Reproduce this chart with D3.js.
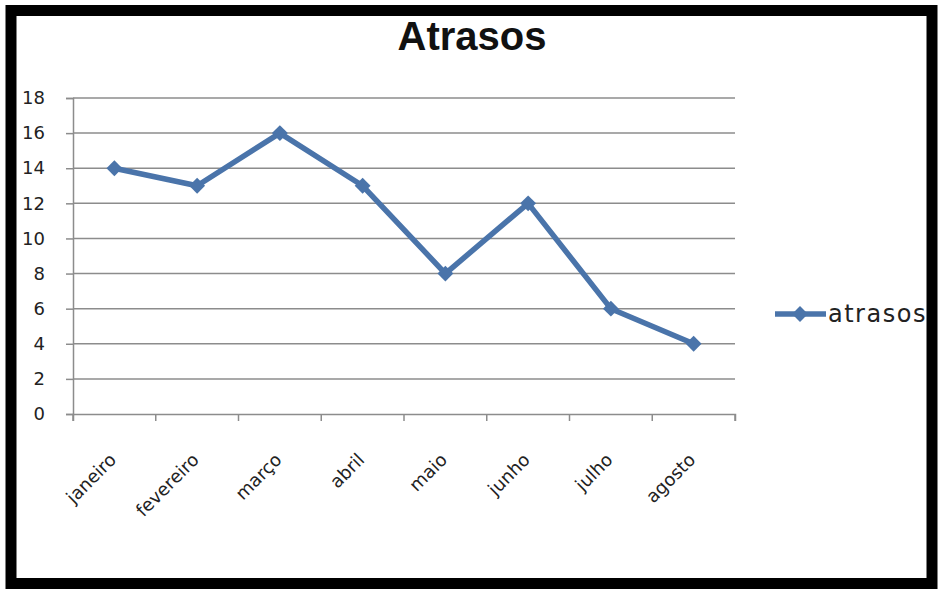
<!DOCTYPE html>
<html><head><meta charset="utf-8">
<script src="https://cdn.jsdelivr.net/npm/d3@7"></script>
<style>
html,body{margin:0;padding:0;background:#fff;}
svg{display:block;font-family:"Liberation Sans",Arial,sans-serif;}
</style></head>
<body>
<svg id="chart" width="941" height="594"></svg>
<script>
const title = "Atrasos";
const seriesName = "atrasos";
const categories = ["janeiro","fevereiro","março","abril","maio","junho","julho","agosto"];
const values = [14, 13, 16, 13, 8, 12, 6, 4];
const yTicks = [0,2,4,6,8,10,12,14,16,18];

const svg = d3.select("#chart");
const W = 941, H = 594;
const lineColor = "#4a74aa";
const labelFont = "'DejaVu Sans',Verdana,sans-serif";

// frame
svg.append("rect").attr("x",0).attr("y",0).attr("width",W).attr("height",H).attr("fill","#fff");
svg.append("rect").attr("x",11).attr("y",10.5).attr("width",W-20).attr("height",H-21)
  .attr("fill","none").attr("stroke","#000").attr("stroke-width",11);

const x = d3.scaleBand().domain(categories).range([73,735]);
const y = d3.scaleLinear().domain([0,18]).range([414,98]);

// gridlines
svg.append("g").selectAll("line").data(yTicks.filter(d=>d>0)).join("line")
  .attr("x1",73).attr("x2",735).attr("y1",d=>y(d)).attr("y2",d=>y(d))
  .attr("stroke","#8c8c8c").attr("stroke-width",1.5);

// y axis
const yAxis = svg.append("g").attr("transform","translate(73,0)")
  .call(d3.axisLeft(y).tickValues(yTicks).tickSize(7).tickPadding(21));
yAxis.select(".domain").attr("stroke","#8c8c8c").attr("stroke-width",1.5);
yAxis.selectAll(".tick line").attr("stroke","#8c8c8c").attr("stroke-width",1.5);
yAxis.selectAll("text").attr("font-size",18).attr("fill","#222")
  .attr("font-family",labelFont);

// x axis
const xAxis = svg.append("g").attr("transform","translate(0,414)")
  .call(d3.axisBottom(x).tickSize(7).tickSizeOuter(7));
xAxis.select(".domain").attr("stroke","#8c8c8c").attr("stroke-width",1.5);
xAxis.selectAll(".tick line").remove();
const bounds = categories.map(c=>x(c)).concat([x.range()[1]]);
svg.append("g").selectAll("line").data(bounds).join("line")
  .attr("x1",d=>d).attr("x2",d=>d).attr("y1",414).attr("y2",421)
  .attr("stroke","#8c8c8c").attr("stroke-width",1.5);
xAxis.selectAll(".tick text")
  .attr("font-size",18).attr("fill","#222")
  .attr("font-family",labelFont)
  .attr("text-anchor","end")
  .attr("dy",null).attr("y",null)
  .attr("transform","translate(3,47) rotate(-45)");

// line
const cx = d => x(d) + x.bandwidth()/2;
const data = categories.map((c,i)=>({c, v: values[i]}));
svg.append("path").datum(data)
  .attr("fill","none").attr("stroke",lineColor).attr("stroke-width",5.5)
  .attr("stroke-linejoin","round")
  .attr("d", d3.line().x(d=>cx(d.c)).y(d=>y(d.v)));

const diamond = d3.symbol().type(d3.symbolDiamond2).size(160);
svg.append("g").selectAll("path").data(data).join("path")
  .attr("d", diamond)
  .attr("transform", d=>`translate(${cx(d.c)},${y(d.v)})`)
  .attr("fill",lineColor);

// title
svg.append("text").attr("x",472).attr("y",50).attr("text-anchor","middle")
  .attr("font-size",40).attr("font-weight","bold").attr("fill","#111").text(title);

// legend
const ly = 314;
svg.append("line").attr("x1",775).attr("x2",826).attr("y1",ly).attr("y2",ly)
  .attr("stroke",lineColor).attr("stroke-width",5.5);
svg.append("path").attr("d",diamond).attr("transform",`translate(800,${ly})`).attr("fill",lineColor);
svg.append("text").attr("x",828).attr("y",ly+8).attr("font-size",24)
  .attr("font-family",labelFont)
  .attr("letter-spacing",1.5).attr("fill","#222").text(seriesName);
</script>
</body></html>
